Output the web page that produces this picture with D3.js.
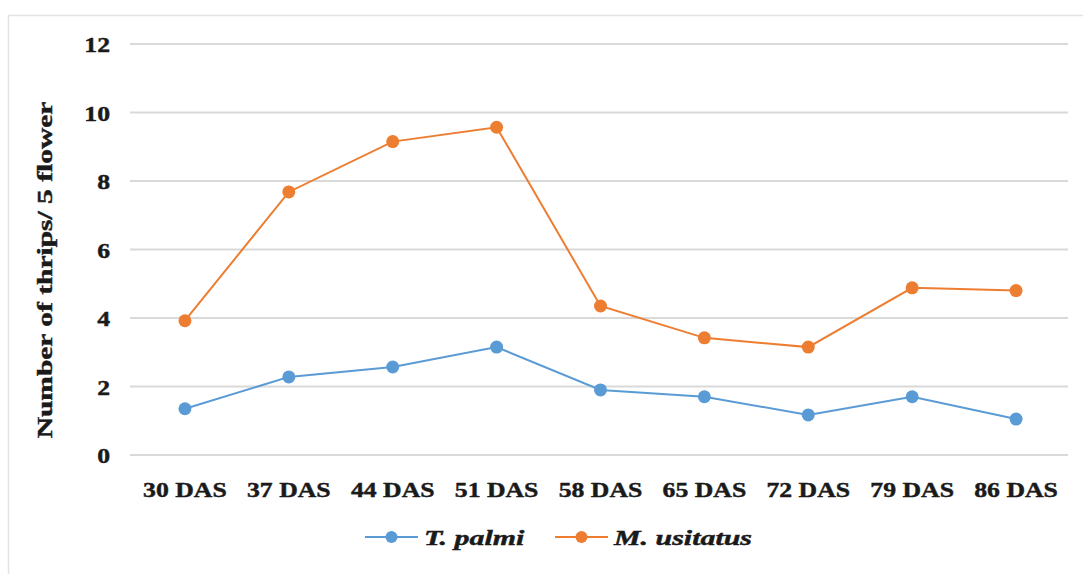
<!DOCTYPE html>
<html>
<head>
<meta charset="utf-8">
<script src="https://cdn.jsdelivr.net/npm/d3@7"></script>
<style>
  html, body { margin: 0; padding: 0; background: #fff; }
  svg { display: block; }
  text { font-family: "Liberation Serif", "Times New Roman", serif; font-weight: bold; fill: #1a1a1a; stroke: #1a1a1a; stroke-width: 0.45px; }
</style>
</head>
<body>
<svg id="chart" width="1083" height="574"></svg>
<script>
// Sampling dates (days after sowing)
const categories = ["30 DAS", "37 DAS", "44 DAS", "51 DAS", "58 DAS", "65 DAS", "72 DAS", "79 DAS", "86 DAS"];
// Mean thrips count per 5 flowers
const tPalmi    = [1.35, 2.28, 2.57, 3.15, 1.9, 1.7, 1.17, 1.7, 1.05];
const mUsitatus = [3.92, 7.68, 9.15, 9.57, 4.35, 3.42, 3.15, 4.88, 4.8];
const yTicks = [0, 2, 4, 6, 8, 10, 12];
const seriesNames = ["T. palmi", "M. usitatus"];
const seriesColors = ["#5b9bd5", "#ed7d31"];

const series = [
  { name: seriesNames[0], color: seriesColors[0], values: tPalmi },
  { name: seriesNames[1], color: seriesColors[1], values: mUsitatus }
];

const svg = d3.select("#chart");
const stretch = 1.17;   // horizontal widening of the label type

// outer frame
svg.append("rect")
  .attr("x", 8.5).attr("y", 15.5)
  .attr("width", 1100).attr("height", 600)
  .attr("fill", "none").attr("stroke", "#e3e3e3").attr("stroke-width", 1.5);

const plot = { left: 133, right: 1068, top: 44, bottom: 455 };

const x = d3.scaleBand().domain(categories).range([plot.left, plot.right]);
const y = d3.scaleLinear().domain([0, 12]).range([plot.bottom, plot.top]);

// gridlines
svg.append("g")
  .selectAll("line")
  .data(yTicks)
  .join("line")
  .attr("x1", plot.left - 3).attr("x2", plot.right)
  .attr("y1", d => y(d)).attr("y2", d => y(d))
  .attr("stroke", "#d9d9d9").attr("stroke-width", 2);

// y axis labels
const yAxis = svg.append("g")
  .attr("transform", `translate(${plot.left - 23},0)`)
  .call(d3.axisLeft(y).tickValues(yTicks).tickSize(0).tickPadding(0));
yAxis.select(".domain").remove();
yAxis.selectAll("text")
  .attr("font-size", 22)
  .attr("font-family", null)
  .attr("fill", null)
  .attr("dy", "0.35em")
  .attr("x", 0)
  .attr("transform", `scale(${stretch},1)`);

// x axis labels
const xAxis = svg.append("g")
  .attr("transform", `translate(0,${plot.bottom + 34})`)
  .call(d3.axisBottom(x).tickSize(0).tickPadding(0));
xAxis.select(".domain").remove();
xAxis.selectAll(".tick text")
  .attr("font-size", 22)
  .attr("font-family", null)
  .attr("fill", null)
  .attr("dy", "0.35em")
  .attr("y", 0)
  .attr("transform", `scale(${stretch},1)`);

// y axis title
svg.append("text")
  .attr("transform", `translate(52,270) rotate(-90) scale(1.34,1)`)
  .attr("text-anchor", "middle")
  .attr("font-size", 22)
  .text("Number of thrips/ 5 flower");

// series lines and markers
const cx = i => x(categories[i]) + x.bandwidth() / 2;
const line = d3.line()
  .x((d, i) => cx(i))
  .y(d => y(d));

const sg = svg.append("g").selectAll("g").data(series).join("g");
sg.append("path")
  .attr("d", d => line(d.values))
  .attr("fill", "none")
  .attr("stroke", d => d.color)
  .attr("stroke-width", 2);
sg.each(function (s) {
  d3.select(this).selectAll("circle")
    .data(s.values)
    .join("circle")
    .attr("cx", (d, i) => cx(i))
    .attr("cy", d => y(d))
    .attr("r", 6.5)
    .attr("fill", s.color);
});

// legend
const legendX = [365, 555];
const legendY = 537;
const lg = svg.append("g").selectAll("g").data(series).join("g")
  .attr("transform", (d, i) => `translate(${legendX[i]},${legendY})`);
lg.append("line")
  .attr("x1", 0).attr("x2", 53).attr("y1", 0).attr("y2", 0)
  .attr("stroke", d => d.color).attr("stroke-width", 2);
lg.append("circle")
  .attr("cx", 26.5).attr("cy", 0).attr("r", 6)
  .attr("fill", d => d.color);
lg.append("text")
  .attr("transform", `translate(59,0) scale(1.36,1)`)
  .attr("dy", "0.35em")
  .attr("font-size", 22)
  .attr("font-style", "italic")
  .text(d => d.name);
</script>
</body>
</html>
